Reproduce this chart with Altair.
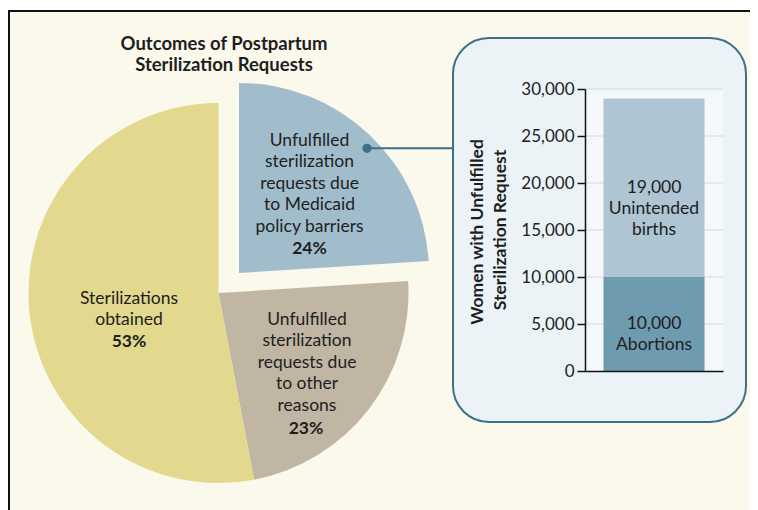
import altair as alt
import pandas as pd

# ---------------- data ----------------
pie_cats = ["Medicaid", "Other", "Obtained"]
pie_vals = [24, 23, 53]
pie_order = [1, 2, 3]

bar_group = "Women"
bar_cats = ["Abortions", "Unintended births"]
bar_vals = [10000, 19000]
bar_order = [1, 2]
bar_labels = ["10,000\nAbortions", "19,000\nUnintended\nbirths"]

y_ticks = [0, 5000, 10000, 15000, 20000, 25000, 30000]

title_text = "Outcomes of Postpartum\nSterilization Requests"
blue_text = "Unfulfilled\nsterilization\nrequests due\nto Medicaid\npolicy barriers"
blue_pct = "24%"
gray_text = "Unfulfilled\nsterilization\nrequests due\nto other\nreasons"
gray_pct = "23%"
yellow_text = "Sterilizations\nobtained"
yellow_pct = "53%"
ytitle_1 = "Women with Unfulfilled"
ytitle_2 = "Sterilization Request"

# ---------------- styles ----------------
CREAM = "#FBF8EC"
YELLOW = "#E2D98E"
GRAY = "#C1B5A4"
PIEBLUE = "#A1BDCC"
BOXFILL = "#EBF3F7"
BOXSTROKE = "#3F7088"
PLOTBG = "#F5F8FB"
GRID = "#DDE3E7"
BARDARK = "#6F9BB0"
BARLIGHT = "#AFC5D3"
INK = "#1E1E1E"
FONT = "Lato"

W, H = 138, 282
OX, OY = 585, 89  # page position of the plot origin
TOTAL_W, TOTAL_H = 742, 502


def px(X):
    return X - OX


def py(Y):
    return Y - OY


color_scale = alt.Scale(domain=pie_cats + bar_cats,
                        range=[PIEBLUE, GRAY, YELLOW, BARDARK, BARLIGHT])
y_scale = alt.Scale(domain=[0, 30000])
x_scale = alt.Scale(paddingInner=0, paddingOuter=0.183)
y_axis = alt.Axis(values=y_ticks, labelExpr="format(datum.value, ',')", grid=False, title=None,
                  labelFontSize=17, labelColor=INK, labelFont=FONT,
                  tickSize=8, tickColor="#111111", tickWidth=1.5,
                  domainColor="#111111", domainWidth=1.5, labelPadding=3, zindex=1)
x_axis = alt.Axis(labels=False, ticks=False, title=None, domainColor="#111111",
                  domainWidth=1.5, zindex=1)

one = pd.DataFrame({"k": [0]})

# frame / background
frame = alt.Chart(one).mark_rect(fill=CREAM).encode(
    x=alt.value(px(8)), x2=alt.value(px(8 + TOTAL_W)),
    y=alt.value(py(11)), y2=alt.value(py(8 + TOTAL_H))
)
frame_top = alt.Chart(one).mark_rule(color="#111111", strokeWidth=2).encode(
    x=alt.value(px(8)), x2=alt.value(px(8 + TOTAL_W)), y=alt.value(py(11))
)
frame_left = alt.Chart(one).mark_rule(color="#111111", strokeWidth=2).encode(
    x=alt.value(px(9)), y=alt.value(py(10)), y2=alt.value(py(8 + TOTAL_H))
)

pie_df = pd.DataFrame({"cat": pie_cats, "value": pie_vals, "ord": pie_order})

pie_main = alt.Chart(pie_df).mark_arc(radius=190).encode(
    theta=alt.Theta("value:Q", stack=True),
    order=alt.Order("ord:Q"),
    color=alt.Color("cat:N", scale=color_scale, legend=None),
    opacity=alt.condition(alt.datum.cat == "Medicaid", alt.value(0), alt.value(1)),
    x=alt.value(px(218.5)), y=alt.value(py(293)),
)
pie_blue = alt.Chart(pie_df).mark_arc(radius=190).encode(
    theta=alt.Theta("value:Q", stack=True),
    order=alt.Order("ord:Q"),
    color=alt.Color("cat:N", scale=color_scale, legend=None),
    opacity=alt.condition(alt.datum.cat == "Medicaid", alt.value(1), alt.value(0)),
    x=alt.value(px(239)), y=alt.value(py(273)),
)


def label(text, X, Y, size=17.5, bold=False, angle=0, baseline="alphabetic", lh=21.4):
    kw = dict(lineBreak="\n", fontSize=size, color=INK, font=FONT, align="center",
              baseline=baseline, lineHeight=lh,
              fontWeight="bold" if bold else "normal")
    if angle:
        kw["angle"] = angle
    return alt.Chart(pd.DataFrame({"t": [text]})).mark_text(**kw).encode(
        text="t:N", x=alt.value(px(X)), y=alt.value(py(Y))
    )


title = label(title_text, 224, 50, size=18.5, bold=True, lh=21)
t_blue = label(blue_text, 309.5, 146)
t_blue_p = label(blue_pct, 309.5, 254, bold=True)
t_gray = label(gray_text, 307, 325)
t_gray_p = label(gray_pct, 306, 434, bold=True)
t_yel = label(yellow_text, 129, 304)
t_yel_p = label(yellow_pct, 129, 347, bold=True)

# inset box
box = alt.Chart(one).mark_rect(fill=BOXFILL, stroke=BOXSTROKE, strokeWidth=2, cornerRadius=36).encode(
    x=alt.value(px(453)), x2=alt.value(px(746)), y=alt.value(py(38)), y2=alt.value(py(422))
)
conn_line = alt.Chart(one).mark_rule(color=BOXSTROKE, strokeWidth=2).encode(
    x=alt.value(px(367)), x2=alt.value(px(453)), y=alt.value(py(148.3))
)
conn_dot = alt.Chart(one).mark_point(filled=True, shape="circle", size=85, color=BOXSTROKE, opacity=1).encode(
    x=alt.value(px(367)), y=alt.value(py(148.3))
)

plotbg = alt.Chart(one).mark_rect(fill=PLOTBG).encode(
    x=alt.value(0), x2=alt.value(W), y=alt.value(0), y2=alt.value(H)
)

tick_df = pd.DataFrame({"tick": y_ticks[1:]})
grid = alt.Chart(tick_df).mark_rule(color=GRID, strokeWidth=1.5).encode(
    y=alt.Y("tick:Q", axis=y_axis, scale=y_scale),
    x=alt.value(0), x2=alt.value(W),
)

bar_df = pd.DataFrame({"grp": [bar_group] * 2, "cat": bar_cats, "value": bar_vals, "ord": bar_order})
bars = alt.Chart(bar_df).mark_bar().encode(
    x=alt.X("grp:N", scale=x_scale, axis=x_axis),
    y=alt.Y("value:Q", stack=True, scale=y_scale, axis=y_axis),
    color=alt.Color("cat:N", scale=color_scale, legend=None),
    order=alt.Order("ord:Q"),
)

cum = []
s = 0
for v in bar_vals:
    cum.append(s + v / 2)
    s += v
lab_df = pd.DataFrame({"grp": [bar_group] * 2, "mid": cum, "lab": bar_labels})
bar_text = alt.Chart(lab_df).mark_text(lineBreak="\n", fontSize=17.5, color=INK, font=FONT,
                                       baseline="middle", align="center", lineHeight=21).encode(
    x=alt.X("grp:N", scale=x_scale, axis=x_axis),
    y=alt.Y("mid:Q", scale=y_scale, axis=y_axis),
    text="lab:N",
)

yt1 = label(ytitle_1, 478, 232, size=17.5, bold=True, angle=270, baseline="middle")
yt2 = label(ytitle_2, 501, 230, size=17.5, bold=True, angle=270, baseline="middle")

chart = alt.layer(
    frame, frame_top, frame_left, pie_main, pie_blue, title, t_blue, t_blue_p, t_gray, t_gray_p,
    t_yel, t_yel_p, box, conn_line, conn_dot, plotbg, grid, bars, bar_text, yt1, yt2,
).properties(
    width=W, height=H,
    padding={"left": OX - 8, "top": OY - 8,
             "right": TOTAL_W - (OX - 8) - W, "bottom": TOTAL_H - (OY - 8) - H},
    autosize=alt.AutoSizeParams(type="none"),
    background="white",
).configure(font=FONT).configure_view(strokeWidth=0)

chart.save("out.html", embed_options={"renderer": "svg", "actions": False})
